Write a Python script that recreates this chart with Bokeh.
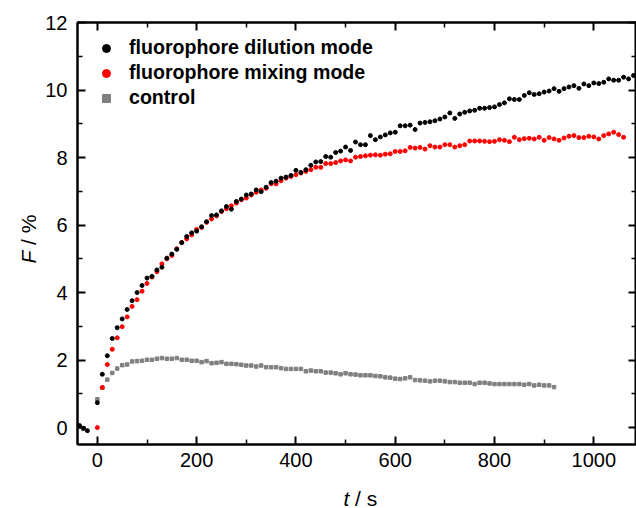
import math
from bokeh.plotting import figure
from bokeh.models import LinearAxis, Label, Legend, LegendItem, Range1d, FixedTicker
from bokeh.embed import file_html
from bokeh.resources import INLINE

# ---------------- data ----------------
t_dilution = [-36, -28, -20] + list(range(0, 1081, 10))
f_dilution = [0.06, -0.02, -0.09,
    0.74, 1.58, 2.13, 2.64, 2.96, 3.22, 3.50, 3.76, 4.00, 4.21,
    4.43, 4.48, 4.67, 4.75, 5.02, 5.14, 5.28, 5.48, 5.66, 5.77,
    5.82, 5.95, 6.10, 6.28, 6.30, 6.42, 6.55, 6.47, 6.70, 6.77,
    6.89, 6.92, 7.04, 6.99, 7.12, 7.26, 7.30, 7.39, 7.42, 7.47,
    7.62, 7.56, 7.64, 7.77, 7.87, 7.88, 8.03, 8.01, 8.15, 8.19,
    8.31, 8.21, 8.46, 8.38, 8.38, 8.65, 8.53, 8.61, 8.67, 8.73,
    8.75, 8.94, 8.94, 8.96, 8.83, 9.02, 9.04, 9.06, 9.09, 9.14,
    9.20, 9.32, 9.16, 9.29, 9.34, 9.38, 9.40, 9.46, 9.46, 9.48,
    9.50, 9.57, 9.62, 9.74, 9.72, 9.72, 9.84, 9.92, 9.87, 9.89,
    9.94, 9.97, 10.04, 9.96, 10.04, 10.09, 10.13, 10.05, 10.18, 10.13,
    10.21, 10.19, 10.23, 10.33, 10.29, 10.29, 10.38, 10.33, 10.43]

t_mixing = list(range(0, 1061, 10))
f_mixing = [
    0.00, 1.19, 1.87, 2.32, 2.66, 2.99, 3.28, 3.59, 3.79, 4.04,
    4.27, 4.46, 4.62, 4.85, 5.00, 5.10, 5.30, 5.48, 5.59, 5.71,
    5.87, 5.93, 6.08, 6.18, 6.27, 6.40, 6.48, 6.57, 6.65, 6.75,
    6.80, 6.89, 6.97, 7.04, 7.09, 7.22, 7.22, 7.31, 7.39, 7.44,
    7.49, 7.54, 7.59, 7.64, 7.71, 7.71, 7.82, 7.82, 7.85, 7.90,
    7.93, 7.90, 8.01, 8.03, 8.05, 8.07, 8.08, 8.07, 8.10, 8.11,
    8.18, 8.18, 8.20, 8.30, 8.28, 8.30, 8.25, 8.35, 8.31, 8.31,
    8.38, 8.38, 8.31, 8.35, 8.38, 8.49, 8.49, 8.49, 8.48, 8.47,
    8.48, 8.53, 8.51, 8.47, 8.60, 8.53, 8.56, 8.57, 8.55, 8.60,
    8.51, 8.59, 8.55, 8.51, 8.58, 8.63, 8.65, 8.59, 8.59, 8.63,
    8.61, 8.55, 8.65, 8.70, 8.75, 8.68, 8.60]

t_control = [-36, -28] + list(range(0, 921, 10))
f_control = [0.03, -0.03,
    0.84, 1.18, 1.42, 1.62, 1.75, 1.85, 1.87, 1.96, 1.97, 1.98,
    2.01, 2.01, 2.04, 2.06, 2.04, 2.04, 2.06, 2.01, 2.01, 1.98,
    1.98, 1.94, 1.97, 1.91, 1.92, 1.94, 1.89, 1.89, 1.88, 1.86,
    1.84, 1.84, 1.81, 1.84, 1.79, 1.79, 1.79, 1.76, 1.74, 1.74,
    1.74, 1.74, 1.67, 1.69, 1.67, 1.67, 1.63, 1.63, 1.61, 1.58,
    1.61, 1.58, 1.57, 1.55, 1.55, 1.55, 1.53, 1.52, 1.49, 1.48,
    1.45, 1.44, 1.46, 1.49, 1.41, 1.40, 1.39, 1.37, 1.39, 1.39,
    1.37, 1.35, 1.35, 1.33, 1.33, 1.33, 1.29, 1.33, 1.33, 1.31,
    1.29, 1.29, 1.29, 1.29, 1.29, 1.29, 1.27, 1.29, 1.25, 1.27,
    1.25, 1.25, 1.20]

labels = ["fluorophore dilution mode", "fluorophore mixing mode", "control"]
x_major = [0, 200, 400, 600, 800, 1000]
x_minor = [100, 300, 500, 700, 900]
y_major = [0, 2, 4, 6, 8, 10, 12]
y_minor = [1, 3, 5, 7, 9, 11]

FONT = "Liberation Sans"
TICK_FS = "20px"
LEG_FS = "19.6px"
TITLE_FS = "21px"

p = figure(width=636, height=508, output_backend="svg", toolbar_location=None,
           x_range=Range1d(-40, 1086), y_range=Range1d(-0.5, 12),
           min_border_left=77, min_border_right=0, min_border_top=22,
           min_border_bottom=64)
p.grid.visible = False
p.outline_line_color = "black"
p.outline_line_width = 2
p.background_fill_color = "white"
p.border_fill_color = "white"

def style_axis(ax, ticks, minor, show_labels):
    ax.ticker = FixedTicker(ticks=ticks, minor_ticks=minor)
    ax.axis_line_width = 2
    ax.axis_line_color = "black"
    ax.major_tick_in = 8
    ax.major_tick_out = 0
    ax.minor_tick_in = 5
    ax.minor_tick_out = 0
    ax.major_tick_line_width = 2
    ax.minor_tick_line_width = 1.5
    ax.major_tick_line_color = "black"
    ax.minor_tick_line_color = "black"
    if show_labels:
        ax.major_label_text_font = FONT
        ax.major_label_text_font_size = TICK_FS
        ax.major_label_text_color = "black"
    else:
        ax.major_label_text_color = None
        ax.major_label_text_font_size = "1px"
        ax.major_label_standoff = 0

xb = p.below[0]
yl = p.left[0]
style_axis(xb, x_major, x_minor, True)
style_axis(yl, y_major, y_minor, True)
xb.major_label_standoff = 8
yl.major_label_standoff = 10

xt = LinearAxis()
style_axis(xt, x_major, x_minor, False)
p.add_layout(xt, "above")
yr = LinearAxis()
style_axis(yr, y_major, y_minor, False)
p.add_layout(yr, "right")

r_ctrl = p.scatter(t_control, f_control, marker="square", size=3.5,
                   color="#808080")
r_mix = p.scatter(t_mixing, f_mixing, marker="circle", size=4,
                  color="#ff0000")
r_dil = p.scatter(t_dilution, f_dilution, marker="circle", size=4,
                  color="#000000")

legend = Legend(items=[LegendItem(label=labels[0], renderers=[r_dil]),
                       LegendItem(label=labels[1], renderers=[r_mix]),
                       LegendItem(label=labels[2], renderers=[r_ctrl])],
                location="top_left", margin=14, padding=0, spacing=2,
                glyph_width=30, glyph_height=20, label_height=20,
                label_standoff=8, border_line_color=None,
                background_fill_alpha=0)
legend.label_text_font = FONT
legend.label_text_font_size = LEG_FS
legend.label_text_font_style = "bold"
legend.label_text_color = "black"
p.add_layout(legend, "center")

# axis titles (italic symbol + upright unit); positioned in data units and
# spread over the side panels that have room to spare
title_kw = dict(text_font=FONT, text_font_size=TITLE_FS, text_color="black",
                text_baseline="alphabetic")
p.add_layout(Label(x=-138.7, y=5.24, text="F", angle=math.pi / 2,
                   text_align="right", text_font_style="italic", **title_kw),
             "above")
p.add_layout(Label(x=-138.7, y=5.41, text="/ %", angle=math.pi / 2,
                   text_align="left", **title_kw), "left")
p.add_layout(Label(x=507.5, y=-2.10, text="t", text_align="right",
                   text_font_style="italic", **title_kw), "left")
p.add_layout(Label(x=519.2, y=-2.10, text="/ s", text_align="left",
                   **title_kw), "below")

open("out.html", "w").write(file_html(p, INLINE))
